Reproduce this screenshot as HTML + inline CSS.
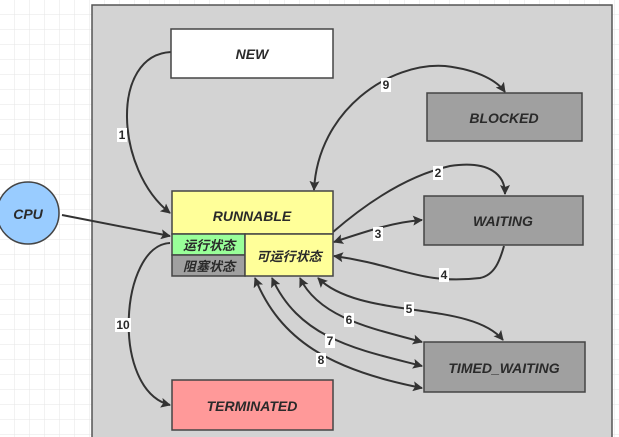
<!DOCTYPE html>
<html><head><meta charset="utf-8"><style>
body{margin:0;width:619px;height:437px;overflow:hidden;background:#fff;}
svg{display:block}
text{font-family:"Liberation Sans","Noto Sans CJK SC",sans-serif;font-style:italic;font-weight:bold;fill:#2a2a2a}
</style></head><body>
<svg width="619" height="437" viewBox="0 0 619 437" xmlns="http://www.w3.org/2000/svg">
<defs>
<pattern id="g" width="15" height="15" patternUnits="userSpaceOnUse"><path d="M15 0V15H0" fill="none" stroke="#e6e6e6" stroke-width="1"/></pattern>
<marker id="a" viewBox="0 0 10 10" refX="9" refY="5" markerWidth="10" markerHeight="10" orient="auto-start-reverse" markerUnits="userSpaceOnUse"><path d="M0 0L10 5L0 10L2 5z" fill="#333"/></marker>
</defs>
<rect width="619" height="437" fill="url(#g)"/>
<rect x="92" y="5" width="520" height="440" fill="#d3d3d3" stroke="#555" stroke-width="1.5"/>
<g fill="none" stroke="#333" stroke-width="2">
<path d="M171 52C110 55 115 170 170 213" marker-end="url(#a)"/>
<path d="M62 215L170 236" marker-end="url(#a)"/>
<path d="M170 243C120 245 110 390 170 405" marker-end="url(#a)"/>
<path d="M314 190C318 110 390 62 445 66C480 70 498 82 505 92" marker-start="url(#a)" marker-end="url(#a)"/>
<path d="M333 232C370 200 410 175 450 166C490 160 505 175 505 194" marker-end="url(#a)"/>
<path d="M334 242C370 230 395 222 422 220" marker-start="url(#a)" marker-end="url(#a)"/>
<path d="M334 256C400 265 420 285 480 278C495 275 500 260 504 246" marker-start="url(#a)"/>
<path d="M318 278C360 320 470 300 503 340" marker-start="url(#a)" marker-end="url(#a)"/>
<path d="M300 278C320 320 380 330 422 342" marker-start="url(#a)" marker-end="url(#a)"/>
<path d="M272 278C300 340 360 350 422 366" marker-start="url(#a)" marker-end="url(#a)"/>
<path d="M255 278C280 340 330 370 422 388" marker-start="url(#a)" marker-end="url(#a)"/>
</g>
<g font-size="12" text-anchor="middle">
<rect x="117" y="128" width="10" height="14" fill="#fff"/><text x="122" y="139" style="font-style:normal">1</text>
<rect x="433" y="166" width="10" height="14" fill="#fff"/><text x="438" y="177" style="font-style:normal">2</text>
<rect x="373" y="227" width="10" height="14" fill="#fff"/><text x="378" y="238" style="font-style:normal">3</text>
<rect x="439" y="268" width="10" height="14" fill="#fff"/><text x="444" y="279" style="font-style:normal">4</text>
<rect x="404" y="302" width="10" height="14" fill="#fff"/><text x="409" y="313" style="font-style:normal">5</text>
<rect x="344" y="313" width="10" height="14" fill="#fff"/><text x="349" y="324" style="font-style:normal">6</text>
<rect x="325" y="334" width="10" height="14" fill="#fff"/><text x="330" y="345" style="font-style:normal">7</text>
<rect x="316" y="353" width="10" height="14" fill="#fff"/><text x="321" y="364" style="font-style:normal">8</text>
<rect x="381" y="78" width="10" height="14" fill="#fff"/><text x="386" y="89" style="font-style:normal">9</text>
<rect x="115" y="318" width="16" height="14" fill="#fff"/><text x="123" y="329" style="font-style:normal">10</text>
</g>
<g stroke="#444" stroke-width="1.5">
<rect x="171" y="29" width="162" height="49" fill="#fff"/>
<rect x="427" y="93" width="155" height="48" fill="#a0a0a0"/>
<rect x="424" y="196" width="159" height="49" fill="#a0a0a0"/>
<rect x="424" y="342" width="161" height="50" fill="#a0a0a0"/>
<rect x="172" y="380" width="161" height="50" fill="#ff9999"/>
<rect x="172" y="191" width="161" height="43" fill="#ffff99"/>
<rect x="172" y="234" width="73" height="21" fill="#99ff99"/>
<rect x="172" y="255" width="73" height="21" fill="#a0a0a0"/>
<rect x="245" y="234" width="88" height="42" fill="#ffff99"/>
<circle cx="28" cy="213" r="31" fill="#99ccff"/>
</g>
<g font-size="14" text-anchor="middle">
<text x="252" y="59">NEW</text>
<text x="504" y="123">BLOCKED</text>
<text x="503" y="226">WAITING</text>
<text x="504" y="373">TIMED_WAITING</text>
<text x="252" y="411">TERMINATED</text>
<text x="252" y="221">RUNNABLE</text>
<text x="28" y="219">CPU</text>
<text x="209" y="250" font-size="13">运行状态</text>
<text x="209" y="271" font-size="13">阻塞状态</text>
<text x="289" y="261" font-size="13">可运行状态</text>
</g>
</svg>
</body></html>
